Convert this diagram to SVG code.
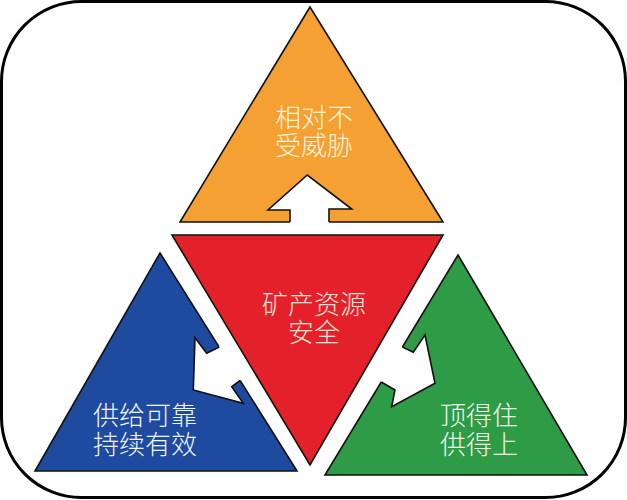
<svg xmlns="http://www.w3.org/2000/svg" width="627" height="500" viewBox="0 0 627 500">
<style>
.tri{stroke:#111;stroke-width:1.6;stroke-linejoin:miter}
.lbl{font-family:"Noto Sans CJK SC","Noto Sans",sans-serif;font-size:26px;font-weight:300;text-anchor:middle;dominant-baseline:central}
.cut{fill:#fff;stroke:none}
.edge{fill:none;stroke:#111;stroke-width:1.6;stroke-linejoin:miter}
</style>
<rect x="1.5" y="1.5" width="624" height="496" rx="80" ry="80" fill="#fff" stroke="#000" stroke-width="3"/>
<g id="node-top">
<polygon class="tri" points="310,7 180,222 443,222" fill="#F5A032"/>
<text class="lbl" fill="#FFF4DC"><tspan x="314" y="115">相对不</tspan><tspan x="314" y="143">受威胁</tspan></text>
</g>
<g id="node-center">
<polygon class="tri" points="172,235 443,235 310,465" fill="#E4202A"/>
<text class="lbl" fill="#FBE6D8"><tspan x="314" y="302">矿产资源</tspan><tspan x="314" y="330">安全</tspan></text>
</g>
<g id="node-left">
<polygon class="tri" points="160,253 297,471 35,471" fill="#1E4AA0"/>
<text class="lbl" fill="#F2F4FF"><tspan x="145" y="413">供给可靠</tspan><tspan x="145" y="442">持续有效</tspan></text>
</g>
<g id="node-right">
<polygon class="tri" points="458,255 587,475 325,475" fill="#2E9B46"/>
<text class="lbl" fill="#EEF8EA"><tspan x="479" y="413">顶得住</tspan><tspan x="479" y="442">供得上</tspan></text>
</g>
<g id="connectors">
<polygon class="cut" points="290,226 290,210 268,210 307.3,175 351.7,209 329,209 329,226"/>
<polyline class="edge" points="290,222 290,210 268,210 307.3,175 351.7,209 329,209 329,222"/>
<polygon class="cut" points="222,345 206.7,353.3 195,337.7 193.3,390 243.3,403.3 231.7,386.7 243,378.5"/>
<polyline class="edge" points="219.3,347 206.7,353.3 195,337.7 193.3,390 243.3,403.3 231.7,386.7 240.1,380.5"/>
<polygon class="cut" points="399.8,345.5 413.3,352.3 425,335 435,383.3 391.7,406.7 395,390 378.6,380.4"/>
<polyline class="edge" points="402.4,347 413.3,352.3 425,335 435,383.3 391.7,406.7 395,390 381.2,382"/>
</g>
</svg>
